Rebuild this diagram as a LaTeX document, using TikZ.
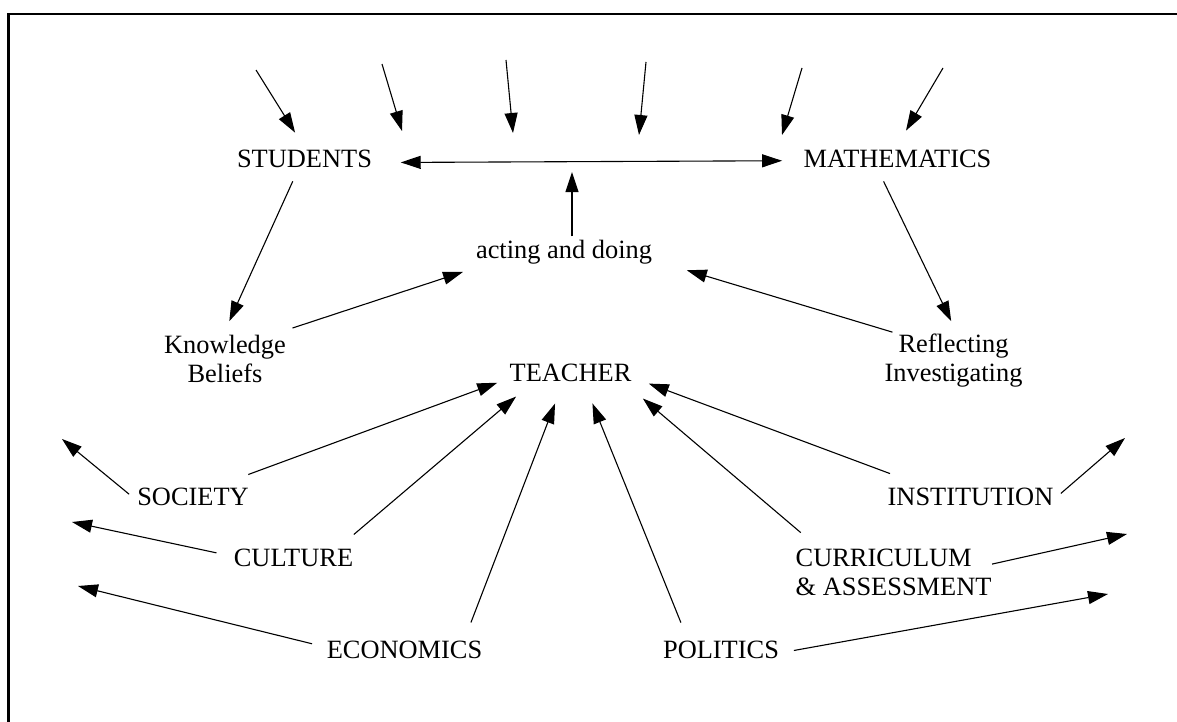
\documentclass[tikz,border=0pt]{standalone}
\usepackage{fontspec}
\setmainfont{Liberation Serif}
\usetikzlibrary{arrows.meta}
\tikzset{
	>={Triangle[length=10pt,width=6.5pt]},
}

\begin{document}
\begin{tikzpicture}[x=0.5pt, y=-0.5pt, line width=0.55pt,
	word/.style = {inner sep=0, font=\fontsize{13.2pt}{14.6pt}\selectfont},
	frame/.style = {line width=1.3pt}]
\useasboundingbox (0,0) rectangle (1177,722);
\draw[frame] (8.3,722) -- (8.3,14) -- (1177,14);

% the triangle and its corners
\node[word] (students) at (304.5,159) {STUDENTS};
\node[word] (maths) at (897.5,159) {MATHEMATICS};
\node[word] (acting) at (564,252.2) {acting and doing};
\node[word, align=center] (knowledge) at (225,358.9) {Knowledge\\Beliefs};
\node[word, align=center] (reflecting) at (953.5,360.2) {Reflecting\\Investigating};
\node[word] (teacher) at (570.5,373) {TEACHER};

% the outer influences
\node[word] (society) at (193,496.5) {SOCIETY};
\node[word] (culture) at (293.5,557.5) {CULTURE};
\node[word] (economics) at (404.5,650) {ECONOMICS};
\node[word] (politics) at (721,650) {POLITICS};
\node[word, align=left] (curriculum) at (893.6,572.7) {CURRICULUM\\\& ASSESSMENT};
\node[word] (institution) at (970.5,496.5) {INSTITUTION};

% free ends
\coordinate (ina) at (256,70);
\coordinate (inb) at (382,64);
\coordinate (inc) at (506,60);
\coordinate (ind) at (646,62);
\coordinate (ine) at (802,68);
\coordinate (inf) at (943,68);
\coordinate (linkb) at (402,131);
\coordinate (linkc) at (513,133);
\coordinate (linkd) at (639,135);
\coordinate (linke) at (782,135);
\coordinate (linkup) at (572,172);
\coordinate (outsociety) at (62,439);
\coordinate (outculture) at (72,522);
\coordinate (outeconomics) at (78,586);
\coordinate (outpolitics) at (1108,594);
\coordinate (outcurriculum) at (1127,534);
\coordinate (outinstitution) at (1125,438);

% arrows from above
\draw[->, shorten >=10pt] (ina) -- (students.83.7);
\draw[->] (inb) -- (linkb);
\draw[->] (inc) -- (linkc);
\draw[->] (ind) -- (linkd);
\draw[->] (ine) -- (linke);
\draw[->, shorten >=11pt] (inf) -- (maths.106.7);

% inside the triangle
\draw[<->, shorten <=14.1pt, shorten >=10.5pt] (students.357.4) -- (maths.181.8);
\draw[->, shorten <=1.6pt] (acting.north -| linkup) -- (linkup);
\draw[->, shorten <=7.1pt, shorten >=7.3pt] (students.238.1) -- (knowledge.94.8);
\draw[->, shorten <=7.2pt, shorten >=6.5pt] (maths.205.8) -- (reflecting.83.5);
\draw[->, shorten <=10.3pt, shorten >=11.4pt] (knowledge.27.9) -- (acting.189.2);
\draw[->, shorten <=1.3pt, shorten >=17.9pt] (reflecting.155.9) -- (acting.355.2);

% influences on the teacher
\draw[->, shorten <=18.2pt, shorten >=6.3pt] (society.24.3) -- (teacher.185.3);
\draw[->, shorten <=10.5pt, shorten >=10.9pt] (culture.12) -- (teacher.194.5);
\draw[->, shorten <=9.7pt, shorten >=11.3pt] (economics.9.6) -- (teacher.232.5);
\draw[->, shorten <=9.7pt, shorten >=11.3pt] (politics.164.6) -- (teacher.325.3);
\draw[->, shorten <=12.4pt, shorten >=12.4pt] (curriculum.162.2) -- (teacher.350.3);
\draw[->, shorten <=19.3pt, shorten >=9pt] (institution.168) -- (teacher.356.5);

% and outwards
\draw[->, shorten <=4.9pt] (society.184.8) -- (outsociety);
\draw[->, shorten <=8.6pt] (culture.179.2) -- (outculture);
\draw[->, shorten <=7.3pt] (economics.178.9) -- (outeconomics);
\draw[->, shorten <=7.3pt] (politics.357.5) -- (outpolitics);
\draw[->] (curriculum.5.1) -- (outcurriculum);
\draw[->, shorten <=4.6pt] (institution.358.3) -- (outinstitution);
\end{tikzpicture}
\end{document}
